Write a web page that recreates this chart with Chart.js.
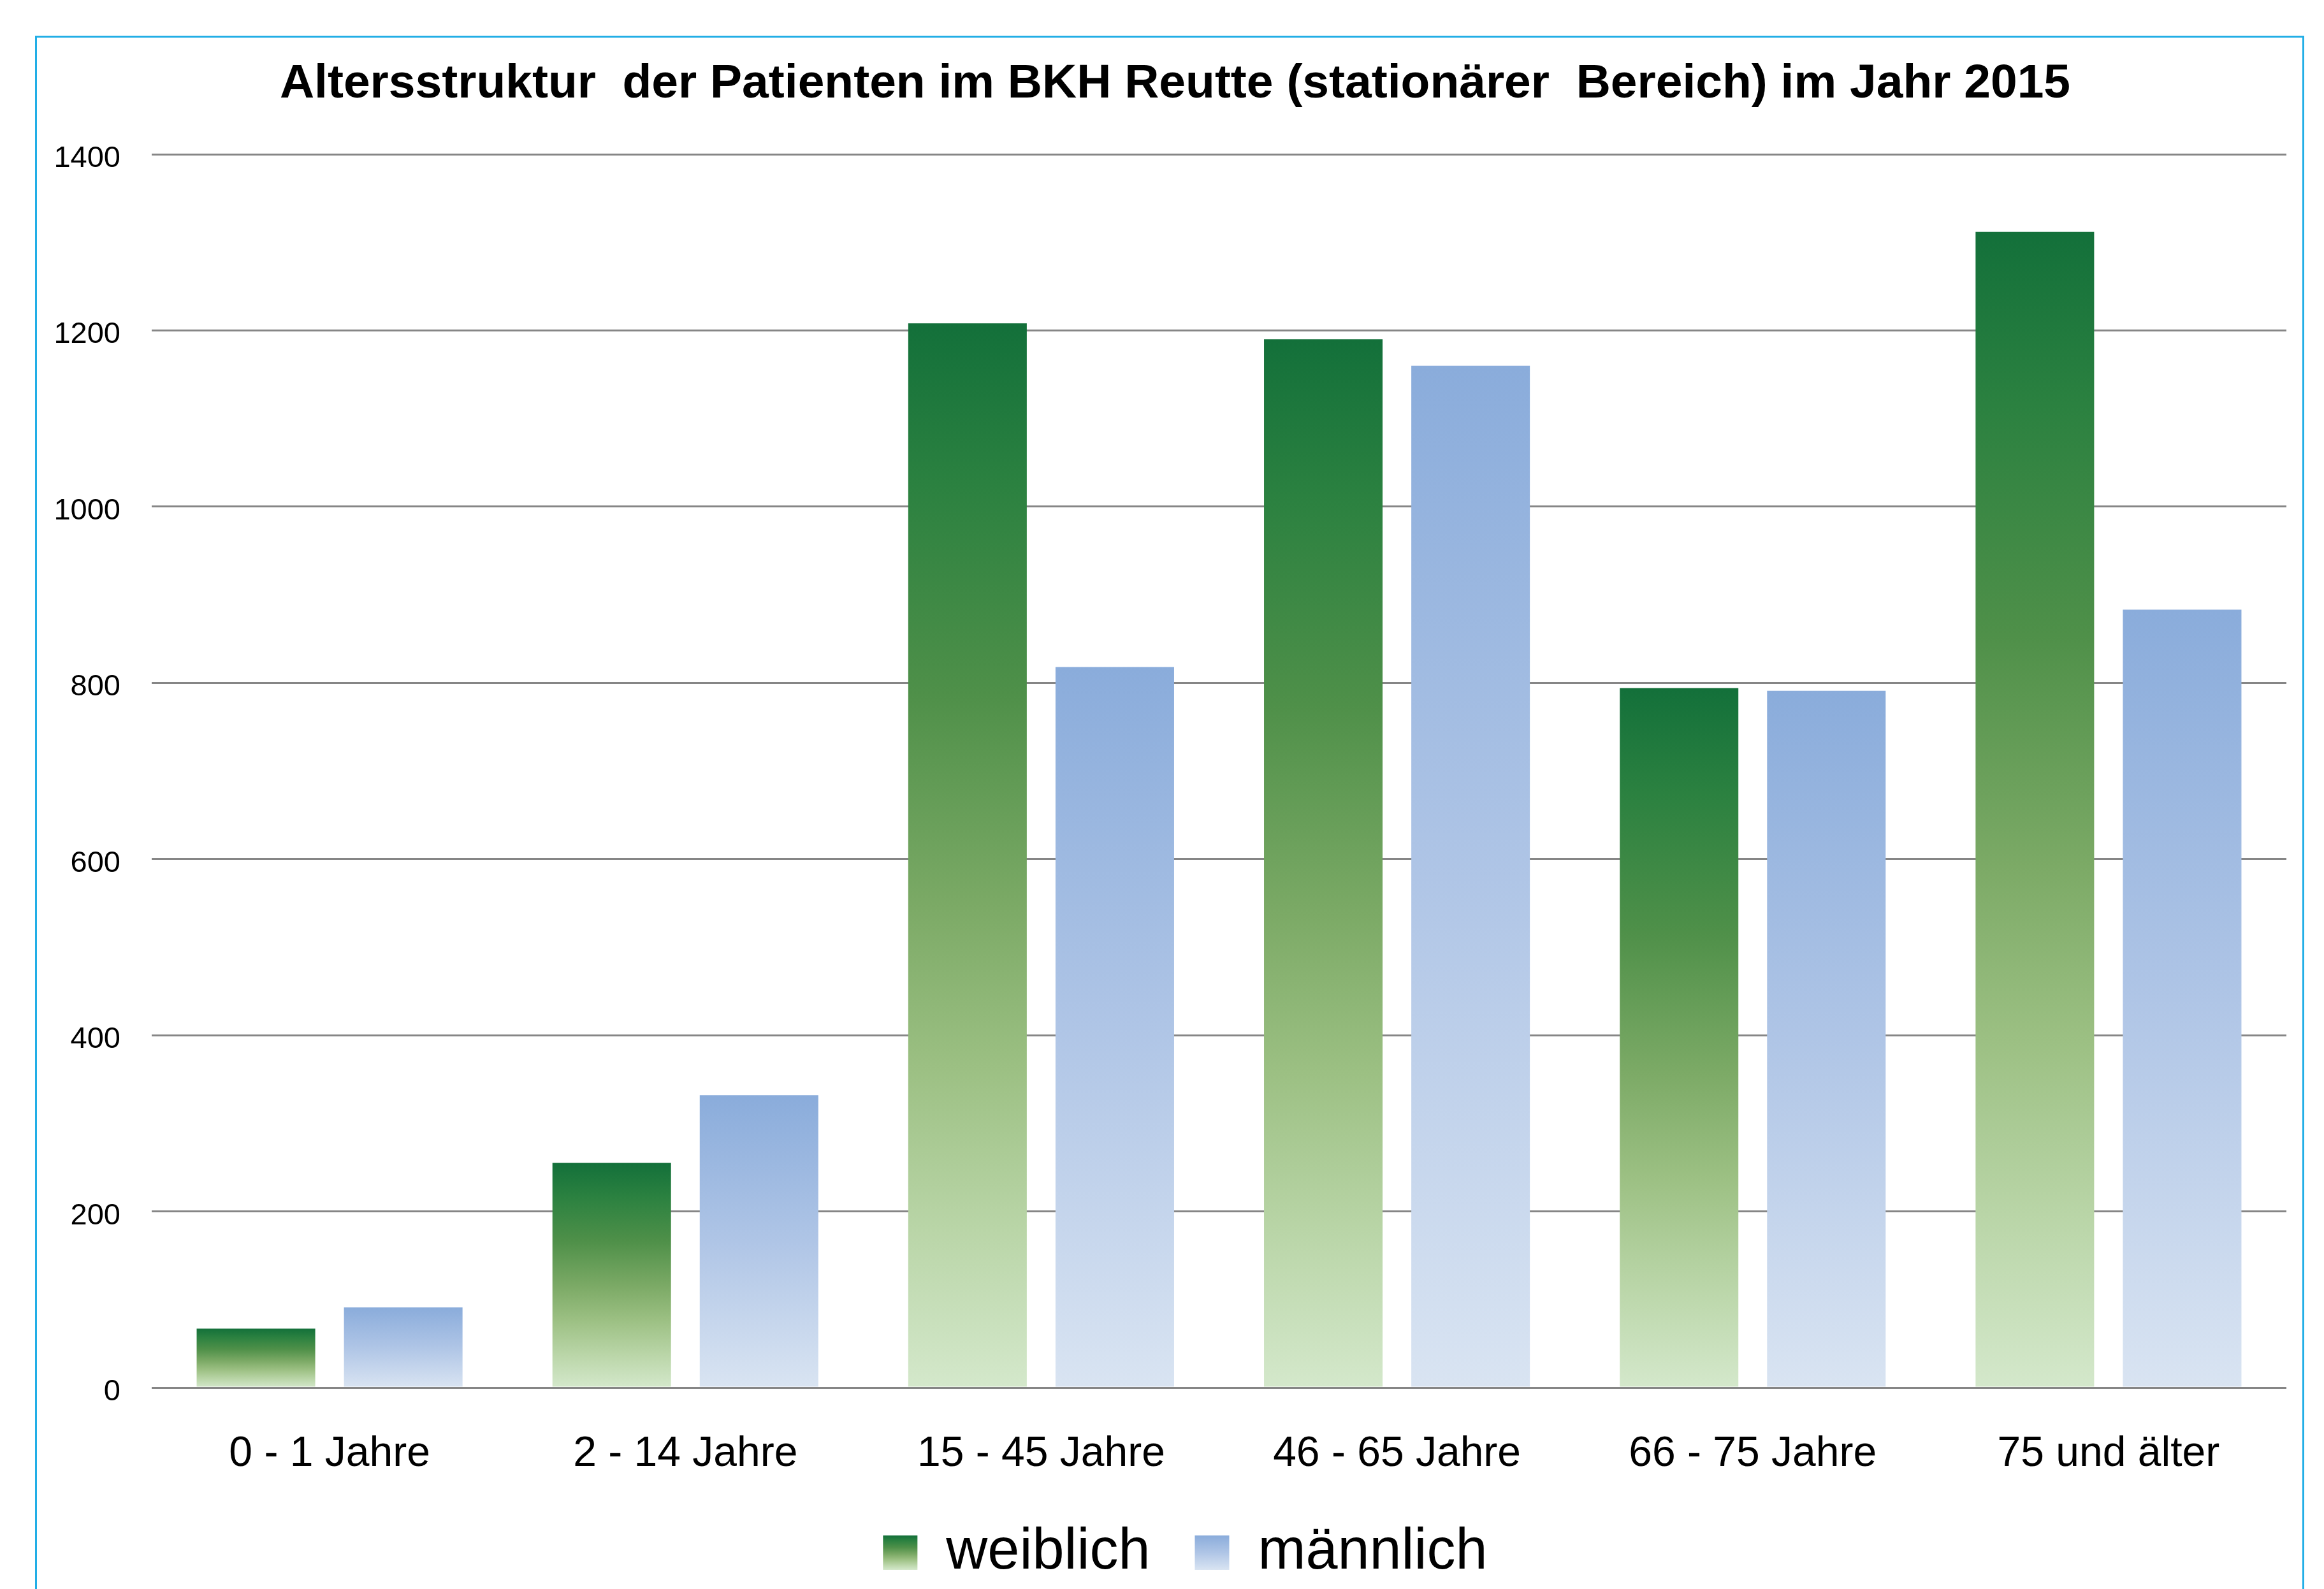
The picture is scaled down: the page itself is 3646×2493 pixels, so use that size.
<!DOCTYPE html>
<html>
<head>
<meta charset="utf-8">
<script src="https://cdn.jsdelivr.net/npm/chart.js@4.4.1/dist/chart.umd.min.js"></script>
<style>
  html, body { margin: 0; padding: 0; background: #ffffff; overflow: hidden; }
  #wrap { position: relative; width: 3646px; height: 2493px; }
  #c { position: absolute; left: 0; top: 0; }
  #frame { position: absolute; left: 55px; top: 56px; width: 3560px; height: 2600px;
           box-sizing: border-box; border: 3px solid #22AEE6; pointer-events: none; }
</style>
</head>
<body>
<div id="wrap">
  <canvas id="c" width="3646" height="2493"></canvas>
  <div id="frame"></div>
</div>
<script>
const titleText = 'Altersstruktur  der Patienten im BKH Reutte (stationärer  Bereich) im Jahr 2015';
const categories = ['0 - 1 Jahre', '2 - 14 Jahre', '15 - 45 Jahre', '46 - 65 Jahre', '66 - 75 Jahre', '75 und älter'];
const weiblich = [67, 255, 1208, 1190, 794, 1312];
const maennlich = [91, 332, 818, 1160, 791, 883];
const seriesNames = ['weiblich', 'männlich'];
const yMin = 0, yMax = 1400, yStep = 200;

const FONT = "'Liberation Sans', Arial, sans-serif";
const greenStops = [[0, '#13703A'], [0.15, '#2B8140'], [0.35, '#4F9049'], [0.55, '#7CAA66'], [0.7, '#9CC083'], [0.85, '#B9D5A7'], [1, '#D4E8CB']];
const blueStops = [[0, '#8AACDB'], [0.5, '#AFC5E6'], [1, '#D9E4F2']];

function makeGradient(ctx, top, bottom, stops) {
  const g = ctx.createLinearGradient(0, top, 0, bottom);
  stops.forEach(s => g.addColorStop(s[0], s[1]));
  return g;
}
function barFill(stops) {
  return (c) => {
    const chart = c.chart;
    if (!chart.chartArea || c.raw === undefined) return stops[0][1];
    const y = chart.scales.y;
    const top = y.getPixelForValue(c.raw);
    const base = y.getPixelForValue(0);
    return makeGradient(chart.ctx, top, base, stops);
  };
}

const LEG_PAD = 70, LEG_FONT = 90, LEG_BOX = 54;

const shiftPlugin = {
  id: 'shift',
  afterLayout(chart) {
    if (chart.legend) { chart.legend.left += 25; chart.legend.right += 25; }
    if (chart.titleBlock) { chart.titleBlock.left += 9; chart.titleBlock.right += 9; }
  }
};

new Chart(document.getElementById('c'), {
  type: 'bar',
  data: {
    labels: categories,
    datasets: [
      { label: seriesNames[0], data: weiblich, backgroundColor: barFill(greenStops), borderWidth: 0 },
      { label: seriesNames[1], data: maennlich, backgroundColor: barFill(blueStops), borderWidth: 0 }
    ]
  },
  options: {
    responsive: false,
    devicePixelRatio: 1,
    animation: false,
    categoryPercentage: 0.828,
    barPercentage: 0.805,
    layout: { padding: { left: 82, right: 59, top: 0, bottom: 2 } },
    scales: {
      x: {
        grid: { display: false, drawTicks: false },
        border: { display: false },
        ticks: { color: '#000', padding: 65, font: { family: FONT, size: 66 }, maxRotation: 0 },
        afterFit(s) { s.height = 144; }
      },
      y: {
        min: yMin, max: yMax,
        grid: { color: '#868686', lineWidth: 3, drawTicks: false },
        border: { display: false },
        ticks: { stepSize: yStep, color: '#000', padding: 49, labelOffset: 7,
                 font: { family: FONT, size: 47 }, callback: (v) => String(v) },
        afterFit(s) { s.width = 156; }
      }
    },
    plugins: {
      title: {
        display: true, text: titleText, color: '#000',
        font: { family: FONT, size: 75, weight: 'bold', lineHeight: 1.2 },
        padding: { top: 87, bottom: 65 }
      },
      legend: {
        display: true, position: 'bottom',
        labels: {
          color: '#000', boxWidth: LEG_BOX, boxHeight: LEG_BOX, padding: LEG_PAD,
          font: { family: FONT, size: LEG_FONT },
          generateLabels(chart) {
            const items = Chart.defaults.plugins.legend.labels.generateLabels(chart);
            const lg = chart.legend;
            if (lg && typeof lg.top === 'number') {
              const boxTop = lg.top + LEG_PAD + (Math.max(LEG_FONT, LEG_BOX) - LEG_BOX) / 2;
              items.forEach((it, i) => {
                it.fillStyle = makeGradient(chart.ctx, boxTop, boxTop + LEG_BOX, i === 0 ? greenStops : blueStops);
              });
            } else {
              items.forEach((it, i) => { it.fillStyle = (i === 0 ? greenStops : blueStops)[0][1]; });
            }
            items.forEach(it => { it.lineWidth = 0; it.strokeStyle = 'rgba(0,0,0,0)'; });
            return items;
          }
        }
      },
      tooltip: { enabled: false }
    }
  },
  plugins: [shiftPlugin]
});
</script>
</body>
</html>
